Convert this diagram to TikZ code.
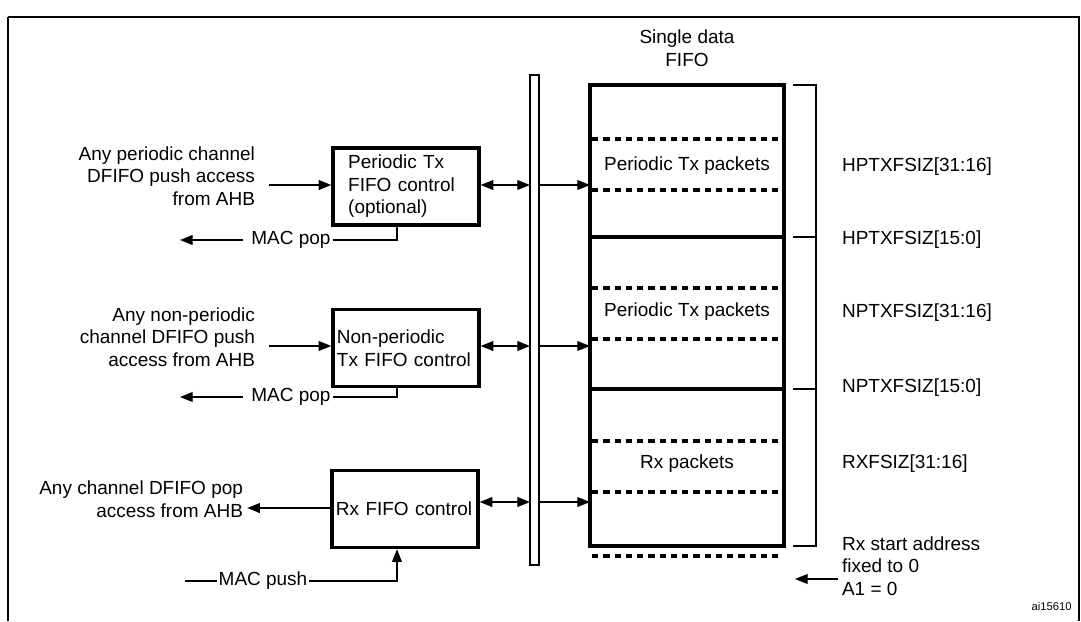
\documentclass[tikz,border=0pt]{standalone}
\usepackage{fontspec}
\setmainfont{Liberation Sans}
\usetikzlibrary{arrows.meta}
\tikzset{
  ctrl/.style={draw,line width=2.4pt,minimum width=3.65cm,minimum height=1.93cm,inner sep=2pt,text width=3.45cm,align=left},
  lbl/.style={inner sep=1pt},
  dashln/.style={line width=2.4pt,dash pattern=on 4.5pt off 3.5pt},
  arr/.style={-{Triangle[length=9pt,width=7pt]}},
  barr/.style={{Triangle[length=9pt,width=7pt]}-{Triangle[length=9pt,width=7pt]}}
}
\begin{document}
\begin{tikzpicture}[x=0.025cm,y=-0.025cm,font=\fontsize{13.5}{16}\selectfont,line width=0.9pt]
\useasboundingbox (0,0) rectangle (1081,621);
\draw[line width=1.2pt] (8,17) -- (1079,17) -- (1079,621) (8,621) -- (8,17);

%% bus and fifo
\draw[line width=1.8pt] (530,75) rectangle (539,565);
\draw[line width=2.6pt] (590,85) rectangle (784,546);
\draw[line width=2.6pt] (590,237) -- (784,237) (590,389) -- (784,389);
\foreach \yy in {139,190,288,339,441,492,556}
  \draw[dashln] (592,\yy) -- (782,\yy);
\node[lbl,align=center] (fifo) at (687,48) {Single data\\FIFO};
\node[lbl] (pkt1) at (687,166) {Periodic Tx packets};
\node[lbl] (pkt2) at (687,312) {Periodic Tx packets};
\node[lbl] (pkt3) at (687,464) {Rx packets};

%% bracket
\draw (793,85) -- (816,85) -- (816,546) -- (793,546)
      (793,237) -- (816,237) (793,389) -- (816,389);
\foreach \txt/\yy in {HPTXFSIZ[31:16]/167,HPTXFSIZ[15:0]/240,NPTXFSIZ[31:16]/313,NPTXFSIZ[15:0]/388,RXFSIZ[31:16]/464}
  \node[lbl,anchor=west] at (840,\yy) {\txt};
\node[lbl,anchor=west,align=left] (rxa) at (840,566) {Rx start address\\fixed to 0\\A1 = 0};
\coordinate (rxs) at (838,579);
\draw[arr] (rxs) -- (795,579);

%% control boxes
\node[ctrl] (ptx) at (406,186.5) {\hspace*{8pt}Periodic Tx\\\hspace*{8pt}FIFO control\\\hspace*{8pt}(optional)};
\node[ctrl] (nptx) at (406,348) {Non-periodic\\Tx FIFO control};
\node[ctrl] (rxc) at (405,509) {Rx FIFO control};

\foreach \b/\yy in {ptx/185,nptx/346,rxc/502}{
  \coordinate (bl\b) at (530,\yy);
  \coordinate (br\b) at (539,\yy);
  \draw[barr] (\b.east |- 0,\yy) -- (bl\b);
  \draw[arr] (br\b) -- (590,\yy);
}

%% inputs
\node[lbl,anchor=east,align=right] (pin) at (257,176) {Any periodic channel\\DFIFO push access\\from AHB};
\draw[arr] (pin.east |- 0,185) ++(12,0) -- (ptx.west |- 0,185);
\node[lbl,anchor=east,align=right] (npin) at (257,337) {Any non-periodic\\channel DFIFO push\\access from AHB};
\draw[arr] (npin.east |- 0,346) ++(12,0) -- (nptx.west |- 0,346);
\node[lbl,anchor=east,align=right] (rxout) at (245,499) {Any channel DFIFO pop\\access from AHB};
\draw[arr] (rxc.west |- 0,508) -- ++(-83,0);

%% mac
\node[lbl] (pop1) at (291,240) {MAC pop};
\draw (ptx.south -| 397,0) -- (397,240) -- (pop1.east);
\draw[arr] (pop1.west) ++(-6,0) -- (180,240);
\node[lbl] (pop2) at (291,397) {MAC pop};
\draw (nptx.south -| 397,0) -- (397,397) -- (pop2.east);
\draw[arr] (pop2.west) ++(-6,0) -- (180,397);
\node[lbl] (push) at (263,581) {MAC push};
\draw[arr] (push.east) -- (397,581) -- (rxc.south -| 397,0);
\draw (push.west) -- (185,581);

\node[font=\fontsize{8}{9}\selectfont,anchor=east] (ai) at (1077,606) {ai15610};
\end{tikzpicture}
\end{document}
